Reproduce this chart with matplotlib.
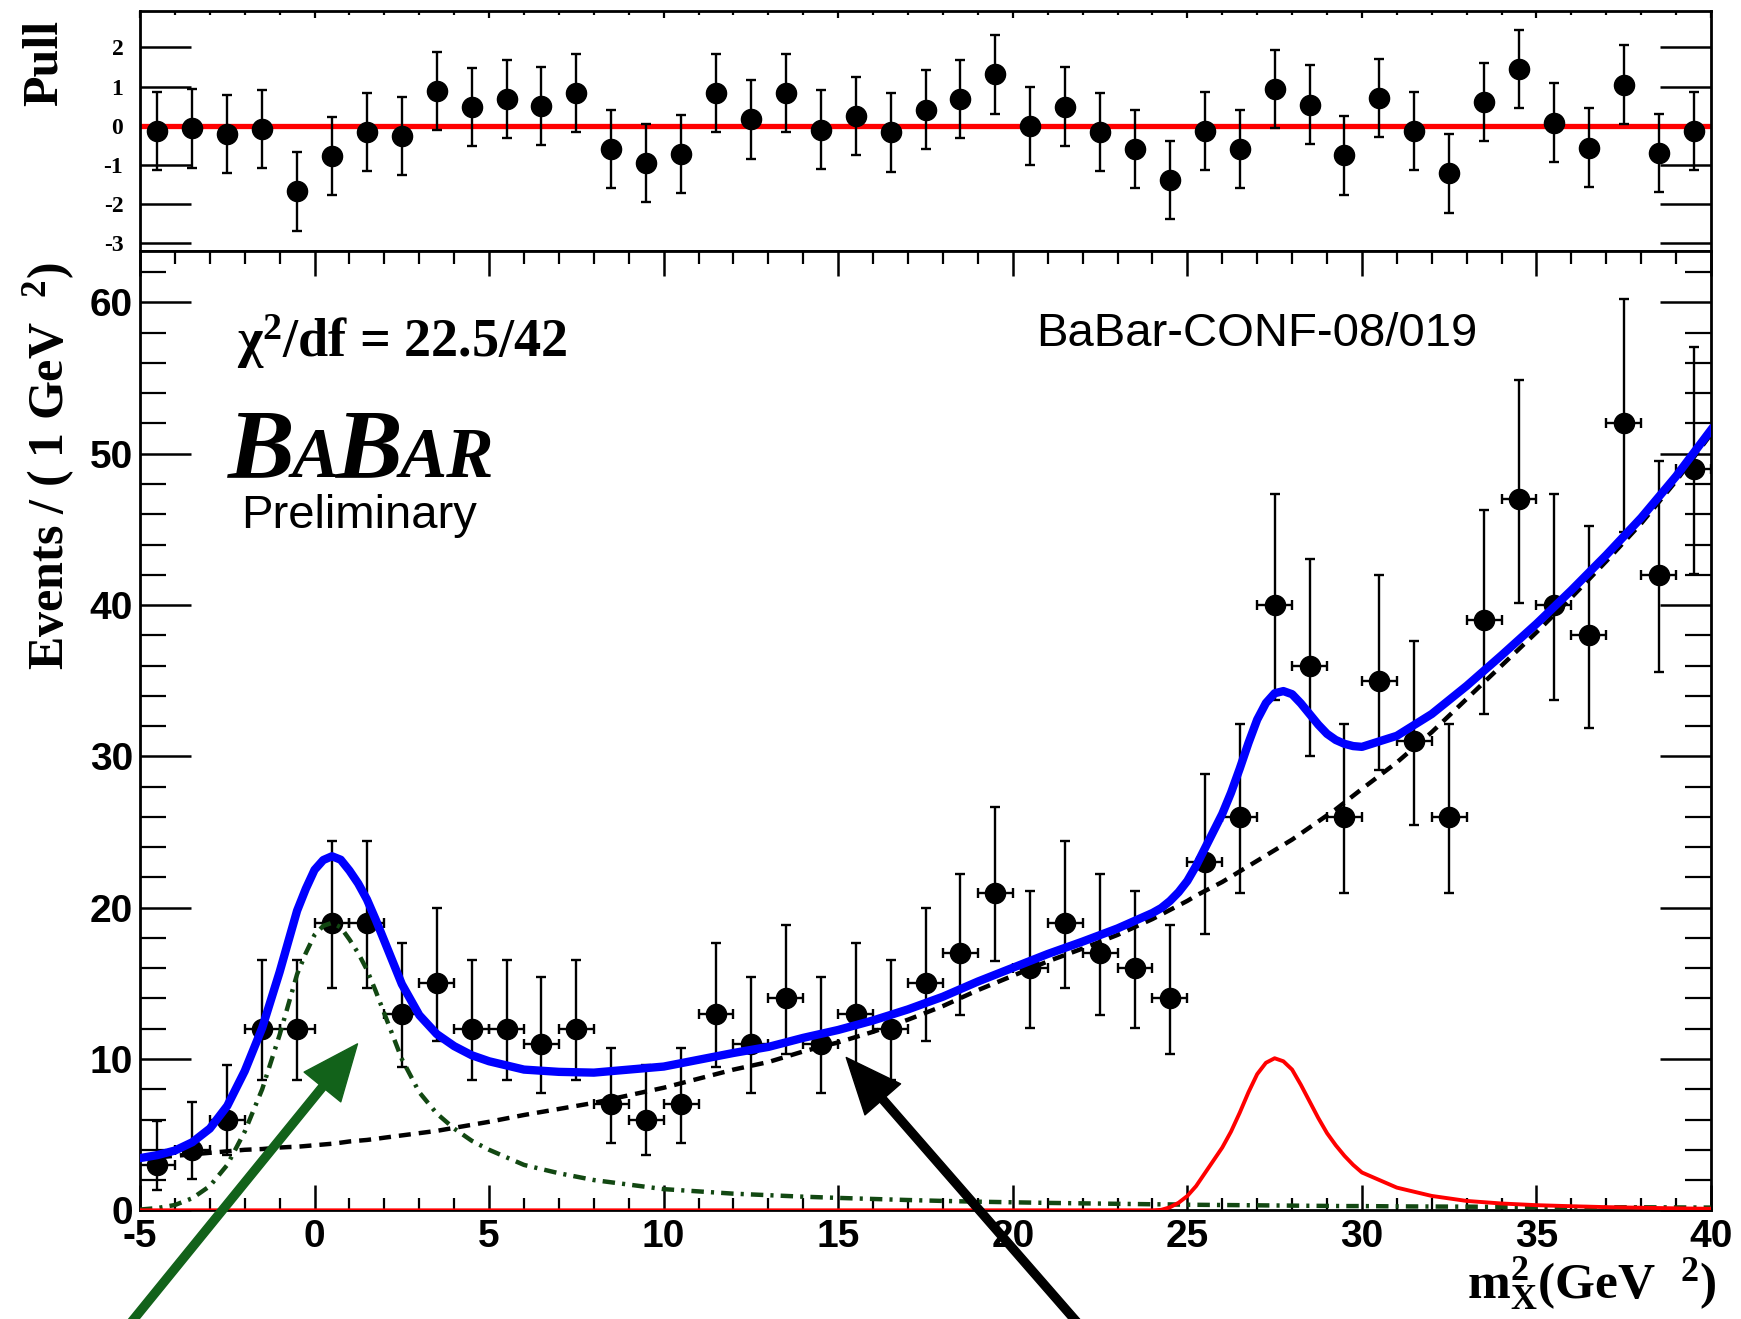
import numpy as np
import matplotlib
matplotlib.use("Agg")
import matplotlib.pyplot as plt
from matplotlib.ticker import MultipleLocator, FixedLocator

plt.rcParams['mathtext.fontset'] = 'custom'
plt.rcParams['mathtext.rm'] = 'Liberation Serif:bold'
plt.rcParams['mathtext.it'] = 'Liberation Serif:italic:bold'
plt.rcParams['mathtext.bf'] = 'Liberation Serif:bold'

# ---------------- data ----------------
# bin centres of the 1 GeV^2 histogram
bin_centres = [-4.5, -3.5, -2.5, -1.5, -0.5, 0.5, 1.5, 2.5, 3.5, 4.5,
               5.5, 6.5, 7.5, 8.5, 9.5, 10.5, 11.5, 12.5, 13.5, 14.5,
               15.5, 16.5, 17.5, 18.5, 19.5, 20.5, 21.5, 22.5, 23.5, 24.5,
               25.5, 26.5, 27.5, 28.5, 29.5, 30.5, 31.5, 32.5, 33.5, 34.5,
               35.5, 36.5, 37.5, 38.5, 39.5]

# events per bin
counts = [3, 4, 6, 12, 12, 19, 19, 13, 15, 12,
          12, 11, 12, 7, 6, 7, 13, 11, 14, 11,
          13, 12, 15, 17, 21, 16, 19, 17, 16, 14,
          23, 26, 40, 36, 26, 35, 31, 26, 39, 47,
          40, 38, 52, 42, 49]

# asymmetric (Poisson) uncertainties on the counts
err_lo = [1.63, 1.91, 2.37, 3.41, 3.41, 4.32, 4.32, 3.55, 3.83, 3.41,
          3.41, 3.26, 3.41, 2.58, 2.37, 2.58, 3.55, 3.26, 3.69, 3.26,
          3.55, 3.41, 3.83, 4.08, 4.54, 3.95, 4.32, 4.08, 3.95, 3.69,
          4.76, 5.06, 6.30, 5.97, 5.06, 5.88, 5.53, 5.06, 6.22, 6.83,
          6.30, 6.13, 7.19, 6.45, 6.97]
err_hi = [2.92, 3.15, 3.58, 4.55, 4.55, 5.43, 5.43, 4.69, 4.95, 4.55,
          4.55, 4.41, 4.55, 3.76, 3.58, 3.76, 4.69, 4.41, 4.83, 4.41,
          4.69, 4.55, 4.95, 5.20, 5.65, 5.08, 5.43, 5.20, 5.08, 4.83,
          5.86, 6.16, 7.37, 7.05, 6.16, 6.97, 6.63, 6.16, 7.30, 7.90,
          7.37, 7.22, 8.26, 7.53, 8.05]

# fit pulls per bin
pulls = [-0.14, -0.07, -0.22, -0.09, -1.68, -0.77, -0.16, -0.26, 0.88, 0.48,
         0.68, 0.50, 0.84, -0.60, -0.96, -0.72, 0.84, 0.16, 0.84, -0.10,
         0.24, -0.17, 0.41, 0.68, 1.31, 0.00, 0.49, -0.16, -0.59, -1.38,
         -0.13, -0.59, 0.93, 0.54, -0.76, 0.71, -0.13, -1.22, 0.61, 1.44,
         0.08, -0.56, 1.05, -0.70, -0.14]

# fit components sampled along m_X^2
fit_x = [-5, -4.5, -4, -3.5, -3, -2.5, -2, -1.5,
         -1.25, -1, -0.75, -0.5, -0.25, 0, 0.25, 0.5, 0.75, 1, 1.25, 1.5, 1.75, 2,
         2.5, 3, 3.5, 4, 4.5, 5,
         6, 7, 8, 9, 10, 11, 12, 13, 14, 15, 16, 17, 18, 19, 20, 21, 22, 23, 24,
         24.25, 24.5, 24.75, 25, 25.25, 25.5, 25.75, 26,
         26.25, 26.5, 26.75, 27, 27.25, 27.5, 27.75, 28, 28.25, 28.5, 28.75, 29,
         29.25, 29.5, 29.75, 30,
         31, 32, 33, 34, 35, 36, 37, 38, 39, 40]

# smooth combinatoric background (black dashed)
fit_background = [3.4, 3.5, 3.6, 3.7, 3.8, 3.9, 4.0, 4.05,
                  4.1, 4.15, 4.18, 4.2, 4.25, 4.3, 4.35, 4.4, 4.47, 4.55, 4.6, 4.65, 4.72, 4.8,
                  4.95, 5.1, 5.25, 5.45, 5.65, 5.85,
                  6.3, 6.7, 7.1, 7.6, 8.1, 8.7, 9.3, 9.8, 10.5, 11.1, 11.8, 12.6, 13.5,
                  14.55, 15.5, 16.45, 17.3, 18.2, 19.25,
                  19.55, 19.85, 20.15, 20.45, 20.8, 21.1, 21.4, 21.7,
                  22.05, 22.4, 22.75, 23.1, 23.45, 23.8, 24.15, 24.5, 24.9, 25.3, 25.7, 26.1,
                  26.5, 26.95, 27.4, 27.85,
                  29.6, 31.6, 33.8, 36.0, 38.2, 40.5, 42.9, 45.4, 48.2, 51.3]

# peaking component near m_X^2 = 0 (green dash-dot)
fit_peak_low = [0.05, 0.15, 0.35, 0.8, 1.6, 3.0, 5.2, 8.0,
                9.8, 11.6, 13.6, 15.6, 17.0, 18.2, 18.8, 19.0, 18.7, 17.9, 17.0, 15.9, 14.5, 13.0,
                10.0, 7.8, 6.4, 5.4, 4.6, 4.0,
                3.0, 2.45, 2.0, 1.7, 1.4, 1.25, 1.1, 1.0, 0.9, 0.82, 0.75, 0.68, 0.62,
                0.57, 0.53, 0.49, 0.46, 0.43, 0.40,
                0.395, 0.39, 0.38, 0.37, 0.365, 0.36, 0.355, 0.35,
                0.345, 0.34, 0.335, 0.33, 0.325, 0.32, 0.315, 0.31, 0.305, 0.30, 0.295, 0.29,
                0.285, 0.28, 0.28, 0.28,
                0.26, 0.25, 0.24, 0.23, 0.22, 0.21, 0.20, 0.20, 0.19, 0.18]

# signal component (red)
fit_signal = [0, 0, 0, 0, 0, 0, 0, 0,
              0, 0, 0, 0, 0, 0, 0, 0, 0, 0, 0, 0, 0, 0,
              0, 0, 0, 0, 0, 0,
              0, 0, 0, 0, 0, 0, 0, 0, 0, 0, 0, 0, 0, 0, 0, 0, 0, 0, 0,
              0.03, 0.2, 0.5, 0.95, 1.6, 2.45, 3.3, 4.15,
              5.2, 6.45, 7.8, 9.0, 9.75, 10.05, 9.85, 9.3, 8.3, 7.2, 6.1, 5.1,
              4.3, 3.6, 3.0, 2.5,
              1.5, 0.95, 0.62, 0.45, 0.34, 0.27, 0.21, 0.17, 0.13, 0.10]

x_tick_values = [-5, 0, 5, 10, 15, 20, 25, 30, 35, 40]
x_tick_labels = ['-5', '0', '5', '10', '15', '20', '25', '30', '35', '40']
y_tick_values = [0, 10, 20, 30, 40, 50, 60]
y_tick_labels = ['0', '10', '20', '30', '40', '50', '60']
pull_tick_values = [-3, -2, -1, 0, 1, 2]
pull_tick_labels = ['-3', '-2', '-1', '0', '1', '2']

fit_total = (np.array(fit_background) + np.array(fit_peak_low)
             + np.array(fit_signal))

# ---------------- styling ----------------
SANS = 'Liberation Sans'
SERIF = 'Liberation Serif'
GREEN_CURVE = '#124812'
GREEN_ARROW = '#12621a'

fig = plt.figure(figsize=(17.41, 13.19), dpi=100)
ax_pull = fig.add_axes([0.0804, 0.8097, 0.9024, 0.1820])
ax = fig.add_axes([0.0804, 0.0824, 0.9024, 0.7273])

for a in (ax, ax_pull):
    for sp in a.spines.values():
        sp.set_linewidth(2.0)
    a.set_xlim(-5, 40)

# ---------------- pull panel ----------------
ax_pull.axhline(0.0, color='#ff0000', lw=3.8, zorder=2)
ax_pull.errorbar(bin_centres, pulls, yerr=1.0, fmt='o', ms=14.5,
                 color='black', ecolor='black', elinewidth=1.7,
                 capsize=3.8, capthick=1.7, zorder=3)
ax_pull.set_ylim(-3.2, 2.93)
ax_pull.yaxis.set_major_locator(FixedLocator(pull_tick_values))
ax_pull.set_yticklabels(pull_tick_labels, fontfamily=SERIF,
                        fontweight='bold', fontsize=17)
ax_pull.yaxis.set_minor_locator(FixedLocator([]))
ax_pull.xaxis.set_major_locator(MultipleLocator(5))
ax_pull.xaxis.set_minor_locator(MultipleLocator(1))
ax_pull.tick_params(axis='y', which='major', direction='in', length=37,
                    width=1.8, left=True, right=True, pad=12)
ax_pull.tick_params(axis='x', which='major', direction='in', length=5,
                    width=1.6, top=True, bottom=False, labelbottom=False)
ax_pull.tick_params(axis='x', which='minor', direction='in', length=3,
                    width=1.6, top=True, bottom=False)

# ---------------- main panel ----------------
ax.errorbar(bin_centres, counts, yerr=[err_lo, err_hi], xerr=0.5, fmt='o',
            ms=14.5, color='black', ecolor='black', elinewidth=1.7,
            capsize=3.8, capthick=1.7, zorder=2)
ax.plot(fit_x, fit_peak_low, color=GREEN_CURVE, lw=3.2,
        dashes=(2.8, 1.6, 0.7, 1.6), zorder=3)
ax.plot(fit_x, fit_background, color='black', lw=3.2,
        dashes=(2.7, 1.8), zorder=3)
ax.plot(fit_x, fit_signal, color='#ff0000', lw=2.8, zorder=3)
ax.plot(fit_x, fit_total, color='#0000ff', lw=6.0, zorder=4,
        solid_joinstyle='round')

ax.set_ylim(0, 63.4)
ax.xaxis.set_major_locator(FixedLocator(x_tick_values))
ax.set_xticklabels(x_tick_labels, fontfamily=SANS, fontweight='bold',
                   fontsize=28)
ax.xaxis.set_minor_locator(MultipleLocator(1))
ax.yaxis.set_major_locator(FixedLocator(y_tick_values))
ax.set_yticklabels(y_tick_labels, fontfamily=SANS, fontweight='bold',
                   fontsize=28)
ax.yaxis.set_minor_locator(MultipleLocator(2))
ax.tick_params(axis='x', which='major', direction='in', length=18,
               width=1.8, top=True, bottom=True, pad=6)
ax.tick_params(axis='x', which='minor', direction='in', length=9,
               width=1.6, top=True, bottom=True)
ax.tick_params(axis='y', which='major', direction='in', length=37,
               width=1.8, left=True, right=True, pad=5)
ax.tick_params(axis='y', which='minor', direction='in', length=19,
               width=1.6, left=True, right=True)

# arrows pointing to the two fit components
ax.annotate('', xy=(1.23, 11.0), xytext=(-5.25, -7.4),
            arrowprops=dict(color=GREEN_ARROW, width=5.8, headwidth=34,
                            headlength=40, shrink=0.0),
            annotation_clip=False, zorder=6)
ax.annotate('', xy=(15.23, 10.1), xytext=(21.84, -7.4),
            arrowprops=dict(color='black', width=5.8, headwidth=34,
                            headlength=40, shrink=0.0),
            annotation_clip=False, zorder=6)

# ---------------- labels and annotations ----------------
fig.text(0.0255, 1 - 20 / 1319, 'Pull', rotation=90, ha='center', va='top',
         fontfamily=SERIF, fontweight='bold', fontsize=36)
fig.text(0.028, 1 - 262 / 1319, r'Events / ( 1 GeV  $^{2}$)', rotation=90,
         ha='center', va='top', fontfamily=SERIF, fontweight='bold',
         fontsize=36)
fig.text(1716 / 1741, 1 - 1299 / 1319,
         r'$\mathrm{m}_{\mathrm{X}}^{\mathrm{2}}$(GeV  $^{\mathrm{2}}$)',
         ha='right', va='baseline', fontfamily=SERIF, fontweight='bold',
         fontsize=37)

fig.text(237 / 1741, 1 - 357 / 1319, 'χ$^{2}$/df = 22.5/42',
         ha='left', va='baseline', fontfamily=SERIF, fontweight='bold',
         fontsize=39)
fig.text(1036 / 1741, 1 - 346 / 1319, 'BaBar-CONF-08/019', ha='left',
         va='baseline', fontfamily=SANS, fontsize=34)
fig.text(241 / 1741, 1 - 528 / 1319, 'Preliminary', ha='left',
         va='baseline', fontfamily=SANS, fontsize=34)

# experiment logo: large and small italic capitals on a shared baseline
renderer = fig.canvas.get_renderer()
logo_parts = [('B', 72), ('A', 51), ('B', 72), ('AR', 51)]
x_px = 228.0
for letters, size in logo_parts:
    t = fig.text(x_px / 1741, 1 - 477 / 1319, letters, ha='left',
                 va='baseline', fontfamily=SERIF, fontweight='bold',
                 fontstyle='italic', fontsize=size)
    bb = t.get_window_extent(renderer)
    x_px = bb.x1 - 3

fig.savefig('out.png', dpi=100)
